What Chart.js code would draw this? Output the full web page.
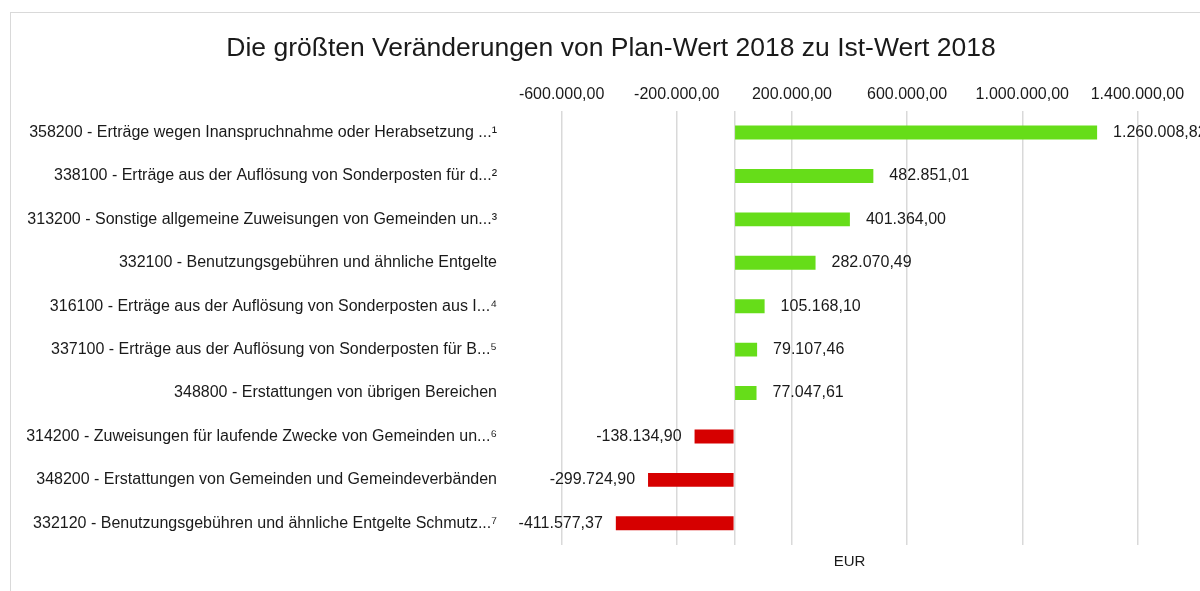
<!DOCTYPE html>
<html>
<head>
<meta charset="utf-8">
<script src="https://cdn.jsdelivr.net/npm/chart.js@4"></script>
<style>
  body { margin: 0; background: #fff; overflow: hidden; }
  #frame { position: absolute; left: 10px; top: 12px; width: 1220px; height: 620px; border: 1px solid #d9d9d9; }
  #wrap { position: absolute; left: 0; top: 0; width: 1200px; height: 591px; }
</style>
</head>
<body>
<div id="frame"></div>
<div id="wrap"><canvas id="chgChart"></canvas></div>
<script>
const categories = [
    '358200 - Erträge wegen Inanspruchnahme oder Herabsetzung ...¹',
    '338100 - Erträge aus der Auflösung von Sonderposten für d...²',
    '313200 - Sonstige allgemeine Zuweisungen von Gemeinden un...³',
    '332100 - Benutzungsgebühren und ähnliche Entgelte',
    '316100 - Erträge aus der Auflösung von Sonderposten aus I...⁴',
    '337100 - Erträge aus der Auflösung von Sonderposten für B...⁵',
    '348800 - Erstattungen von übrigen Bereichen',
    '314200 - Zuweisungen für laufende Zwecke von Gemeinden un...⁶',
    '348200 - Erstattungen von Gemeinden und Gemeindeverbänden',
    '332120 - Benutzungsgebühren und ähnliche Entgelte Schmutz...⁷'
];
const changes = [1260008.82, 482851.01, 401364.00, 282070.49, 105168.10, 79107.46, 77047.61, -138134.90, -299724.90, -411577.37];
const tickValues = [-600000, -200000, 0, 200000, 600000, 1000000, 1400000];

const FONT = "'Liberation Sans', Arial, sans-serif";
const fmt = v => v.toLocaleString('de-DE', { minimumFractionDigits: 2, maximumFractionDigits: 2 });

const valueLabels = {
    id: 'valueLabels',
    afterDatasetsDraw(chart) {
        const ctx = chart.ctx;
        const meta = chart.getDatasetMeta(0);
        ctx.save();
        ctx.font = '16px ' + FONT;
        ctx.fillStyle = '#1a1a1a';
        ctx.textBaseline = 'middle';
        meta.data.forEach((bar, i) => {
            const v = changes[i];
            if (v >= 0) {
                ctx.textAlign = 'left';
                ctx.fillText(fmt(v), bar.x + 16, bar.y);
            } else {
                ctx.textAlign = 'right';
                ctx.fillText(fmt(v), bar.x - 13, bar.y);
            }
        });
        ctx.restore();
    }
};

const ctx = document.getElementById('chgChart').getContext('2d');
const chgChart = new Chart(ctx, {
    type: 'bar',
    data: {
        labels: categories,
        datasets: [{
            label: 'EUR',
            data: changes,
            backgroundColor: changes.map(v => v >= 0 ? '#66dd19' : '#d60000'),
            categoryPercentage: 1,
            barPercentage: 0.32
        }]
    },
    plugins: [valueLabels],
    options: {
        indexAxis: 'y',
        responsive: true,
        maintainAspectRatio: false,
        animation: false,
        layout: { padding: { left: 27, right: 5, top: 0, bottom: 20 } },
        plugins: {
            legend: { display: false },
            tooltip: { enabled: false },
            title: {
                display: true,
                text: 'Die größten Veränderungen von Plan-Wert 2018 zu Ist-Wert 2018',
                color: '#1a1a1a',
                font: { family: FONT, size: 26.5, weight: 'normal' },
                padding: { top: 33, bottom: 4 }
            }
        },
        scales: {
            x: {
                position: 'top',
                min: -800000,
                max: 1600000,
                afterBuildTicks: scale => { scale.ticks = tickValues.map(v => ({ value: v })); },
                afterFit: scale => { scale.height = 42; },
                grid: { color: '#d9d9d9', lineWidth: 1.5, drawTicks: false },
                border: { display: false },
                ticks: {
                    padding: 7,
                    color: '#1a1a1a',
                    font: { family: FONT, size: 16 },
                    callback: v => v === 0 ? '' : fmt(v)
                }
            },
            x2: {
                position: 'bottom',
                axis: 'x',
                min: -800000,
                max: 1600000,
                grid: { display: false, drawTicks: false },
                border: { display: false },
                ticks: { display: false },
                title: {
                    display: true,
                    text: 'EUR',
                    color: '#1a1a1a',
                    font: { family: FONT, size: 15 },
                    padding: { top: 8, bottom: 0 }
                }
            },
            y: {
                afterFit: scale => { scale.width = 477; },
                grid: { display: false, drawTicks: false },
                border: { display: false },
                ticks: {
                    padding: 7,
                    color: '#1a1a1a',
                    font: { family: FONT, size: 16 }
                }
            }
        }
    }
});
</script>
</body>
</html>
